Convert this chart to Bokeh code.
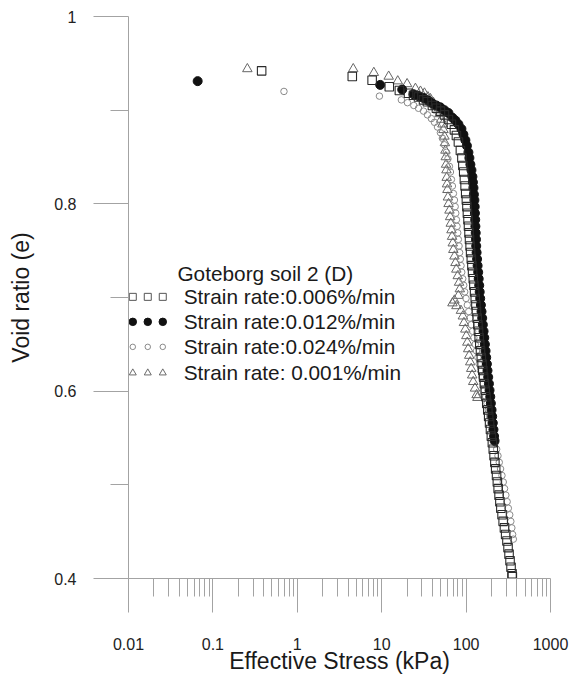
from bokeh.plotting import figure
from bokeh.models import FixedTicker, CustomJSTickFormatter
from bokeh.core.properties import value
from bokeh.embed import file_html
from bokeh.resources import INLINE

FONT = "Liberation Sans"

# ---- CRS oedometer data, Goteborg soil 2 (D) ----
# strain rate 0.006 %/min (open squares)
stress_006 = [0.378, 4.48, 7.7, 12.3, 16.2, 20.8, 23.8, 27.3, 31.3, 34.8, 39.9, 44.5, 49.6, 55.4,
              61.8, 67.0, 72.7, 76.8, 81.1, 85.6, 89.2, 91.6, 93.7, 95.5, 97.3, 98.9, 100.8,
              102.3, 103.7, 105.4, 106.8, 108.3, 109.8, 111.6, 113.1, 115.3, 117.2, 119.4, 121.7,
              123.7, 126.1, 128.4, 130.7, 132.8, 135.4, 138.0, 140.3, 142.9, 145.3, 148.1, 151.4,
              154.7, 157.7, 161.2, 164.7, 168.3, 172.0, 175.8, 180.7, 185.2, 189.8, 194.5, 199.3,
              204.8, 209.9, 214.5, 219.2, 224.1, 229.6, 234.7, 239.8, 245.8, 251.5, 258.1, 266.7,
              274.8, 284.7, 294.2, 304.8, 314.0, 322.7, 331.6, 340.8, 350.1, 353.0]
void_006 = [0.942, 0.936, 0.932, 0.925, 0.921, 0.918, 0.916, 0.914, 0.911, 0.909, 0.905, 0.902, 0.899, 0.895,
            0.890, 0.885, 0.879, 0.873, 0.866, 0.857, 0.849, 0.841, 0.834, 0.826, 0.819, 0.811, 0.804,
            0.797, 0.790, 0.783, 0.776, 0.769, 0.762, 0.755, 0.748, 0.741, 0.734, 0.727, 0.720,
            0.713, 0.706, 0.699, 0.692, 0.685, 0.678, 0.671, 0.664, 0.657, 0.650, 0.643, 0.636,
            0.629, 0.622, 0.615, 0.608, 0.601, 0.594, 0.587, 0.580, 0.573, 0.566, 0.559, 0.552,
            0.545, 0.538, 0.531, 0.524, 0.517, 0.510, 0.503, 0.496, 0.489, 0.482, 0.475, 0.468,
            0.461, 0.454, 0.447, 0.440, 0.433, 0.426, 0.419, 0.412, 0.405, 0.402]

# strain rate 0.012 %/min (filled circles)
stress_012 = [0.066, 9.6, 17.5, 23.8, 27.3, 31.3, 35.8, 39.9, 44.5, 49.6, 55.4, 61.8, 68.8, 74.7,
              81.1, 88.0, 92.9, 98.1, 102.2, 106.5, 109.4, 112.4, 115.7, 118.8, 120.4, 122.3, 123.7,
              125.4, 126.5, 127.2, 128.2, 128.9, 130.0, 131.0, 131.8, 133.2, 135.0, 136.9, 139.1,
              141.0, 143.0, 144.9, 146.9, 149.7, 152.3, 155.2, 157.9, 161.0, 164.1, 166.9, 170.1,
              173.0, 176.3, 179.3, 182.8, 186.4, 189.6, 193.3, 196.5, 200.3, 203.7, 207.1, 211.0,
              214.5, 217.5]
void_012 = [0.931, 0.927, 0.922, 0.917, 0.915, 0.913, 0.910, 0.907, 0.905, 0.903, 0.900, 0.897, 0.892, 0.889,
            0.885, 0.880, 0.874, 0.868, 0.862, 0.855, 0.849, 0.842, 0.836, 0.829, 0.823, 0.817, 0.810,
            0.804, 0.797, 0.790, 0.783, 0.776, 0.769, 0.762, 0.755, 0.748, 0.741, 0.734, 0.727,
            0.720, 0.713, 0.706, 0.699, 0.692, 0.685, 0.678, 0.671, 0.664, 0.657, 0.650, 0.643,
            0.636, 0.629, 0.622, 0.615, 0.608, 0.601, 0.594, 0.587, 0.580, 0.573, 0.566, 0.559,
            0.552, 0.547]

# strain rate 0.024 %/min (open circles)
stress_024 = [0.695, 9.4, 17.1, 20.2, 24.0, 27.3, 31.3, 34.8, 38.8, 42.2, 45.8, 49.6, 52.4, 55.4,
              58.5, 60.9, 63.4, 65.2, 67.0, 68.8, 70.7, 72.7,
              74.2, 75.4, 76.8, 78.1, 79.6, 80.9, 82.5, 83.8, 85.4, 87.1, 88.8, 91.2, 93.7, 96.3,
              99.8, 103.4, 107.4, 111.3, 115.3, 119.4, 123.7, 128.2, 132.8, 138.0, 142.9, 148.1,
              153.4, 159.0, 164.7, 170.6, 176.8, 183.2, 190.3, 197.1, 204.2, 212.2, 221.0, 230.2,
              238.5, 247.1, 256.0, 266.0, 275.6, 285.5, 295.8, 306.4, 316.6, 328.9, 338.9, 348.3,
              355.9, 362.8]
void_024 = [0.920, 0.915, 0.911, 0.908, 0.905, 0.902, 0.899, 0.895, 0.891, 0.887, 0.882, 0.876, 0.870, 0.863,
            0.855, 0.848, 0.840, 0.834, 0.826, 0.819, 0.811, 0.804,
            0.797, 0.790, 0.783, 0.776, 0.769, 0.762, 0.755, 0.748, 0.741, 0.734, 0.727, 0.720, 0.713, 0.706,
            0.699, 0.692, 0.685, 0.678, 0.671, 0.664, 0.657, 0.650, 0.643, 0.636, 0.629, 0.622,
            0.615, 0.608, 0.601, 0.594, 0.587, 0.580, 0.573, 0.566, 0.559, 0.552, 0.545, 0.538,
            0.531, 0.524, 0.517, 0.510, 0.503, 0.496, 0.489, 0.482, 0.475, 0.468, 0.461, 0.454,
            0.447, 0.442]

# strain rate 0.001 %/min (open triangles)
stress_001 = [0.256, 4.6, 8.07, 12.1, 15.5, 20.0, 25.1, 28.8, 32.1, 35.3, 37.8, 41.0, 43.3, 46.4,
              48.3, 50.6, 52.4, 53.9, 55.4, 56.1, 56.9, 57.4, 57.9, 58.5, 58.9, 59.4, 60.1, 60.9,
              62.0, 63.5, 64.7, 65.8, 67.1, 68.2, 69.5, 70.6, 72.8, 74.8, 76.6, 79.6, 82.5, 84.3,
              81.1, 72.8, 68.9, 76.8, 86.9, 91.5, 94.3, 97.9, 100.6, 103.4, 105.9, 108.9, 111.9,
              115.0, 118.1, 121.4, 127.5, 133.2, 136.1]
void_001 = [0.944, 0.944, 0.940, 0.936, 0.931, 0.928, 0.923, 0.920, 0.918, 0.914, 0.912, 0.908, 0.904, 0.900,
            0.896, 0.890, 0.885, 0.879, 0.872, 0.865, 0.857, 0.850, 0.842, 0.836, 0.828, 0.821, 0.815, 0.807,
            0.800, 0.793, 0.786, 0.779, 0.772, 0.765, 0.758, 0.751, 0.744, 0.737, 0.730, 0.723, 0.716, 0.709,
            0.702, 0.697, 0.694, 0.691, 0.686, 0.680, 0.673, 0.666, 0.659, 0.652, 0.645, 0.638, 0.631,
            0.624, 0.617, 0.610, 0.603, 0.596, 0.593]

# ---- axis ticks ----
x_major = [0.01, 0.1, 1, 10, 100, 1000]
x_minor = [d * m for d in [0.01, 0.1, 1, 10, 100] for m in range(2, 10)]
y_major = [0.4, 0.6, 0.8, 1.0]
y_minor = [0.5, 0.7, 0.9]

legend_title = "Goteborg soil 2 (D)"
legend_labels = ["Strain rate:0.006%/min", "Strain rate:0.012%/min",
                 "Strain rate:0.024%/min", "Strain rate: 0.001%/min"]

AXIS_GREY = "#a3a3a3"

p = figure(width=587, height=676, x_axis_type="log",
           x_range=(0.01, 1000), y_range=(0.4, 1.0),
           output_backend="svg", toolbar_location=None,
           min_border_left=128, min_border_right=37,
           min_border_top=16, min_border_bottom=98)
p.outline_line_color = None
p.grid.visible = False
p.background_fill_color = "white"
p.border_fill_color = "white"

fmt = CustomJSTickFormatter(code="return Number(tick.toPrecision(4)).toString();")

xa = p.xaxis[0]
xa.ticker = FixedTicker(ticks=x_major, minor_ticks=x_minor)
xa.formatter = fmt
xa.major_tick_in = 0
xa.major_tick_out = 34
xa.minor_tick_in = 0
xa.minor_tick_out = 18
xa.major_label_standoff = 25
xa.axis_label = "Effective Stress (kPa)"
xa.axis_label_standoff = -5

ya = p.yaxis[0]
ya.ticker = FixedTicker(ticks=y_major, minor_ticks=y_minor)
ya.formatter = fmt
ya.major_tick_in = 0
ya.major_tick_out = 35
ya.minor_tick_in = 0
ya.minor_tick_out = 18
ya.major_label_standoff = 17
ya.axis_label = "Void ratio (e)"
ya.axis_label_standoff = 17

for ax in (xa, ya):
    ax.axis_line_color = AXIS_GREY
    ax.major_tick_line_color = AXIS_GREY
    ax.minor_tick_line_color = AXIS_GREY
    ax.major_label_text_font = FONT
    ax.major_label_text_font_size = "16px"
    ax.major_label_text_color = "#222222"
    ax.axis_label_text_font = FONT
    ax.axis_label_text_font_size = "23px"
    ax.axis_label_text_font_style = "normal"
    ax.axis_label_text_color = "#1a1a1a"

# ---- data series ----
p.scatter(stress_001, void_001, marker="triangle", size=9.5,
          fill_color=None, line_color="#666666", line_width=1)
p.scatter(stress_024, void_024, marker="circle", size=6.5,
          fill_color=None, line_color="#8a8a8a", line_width=1)
p.scatter(stress_012, void_012, marker="circle", size=9,
          fill_color="#111111", line_color="#111111")
p.scatter(stress_006, void_006, marker="square", size=8.5,
          fill_color=None, line_color="#2a2a2a", line_width=1.1)

# ---- legend block ----
mx = [0.01124, 0.01692, 0.02547]
row_y = [0.7007, 0.6740, 0.6473, 0.6195]
p.scatter(mx, [row_y[0]] * 3, marker="square", size=7, fill_color=None, line_color="#555555")
p.scatter(mx, [row_y[1]] * 3, marker="circle", size=7.5, fill_color="#111111", line_color="#111111")
p.scatter(mx, [row_y[2]] * 3, marker="circle", size=5.5, fill_color=None, line_color="#8a8a8a")
p.scatter(mx, [row_y[3]] * 3, marker="triangle", size=7, fill_color=None, line_color="#6a6a6a")

p.text(x=[0.0380], y=[0.7256], text=[legend_title], text_font=value(FONT),
       text_font_size=value("20.8px"), text_baseline="middle", text_align="left",
       text_color="#1a1a1a")
p.text(x=[0.0451] * 4, y=row_y, text=legend_labels, text_font=value(FONT),
       text_font_size=value("20.8px"), text_baseline="middle", text_align="left",
       text_color="#1a1a1a")

open("out.html", "w").write(file_html(p, INLINE))
